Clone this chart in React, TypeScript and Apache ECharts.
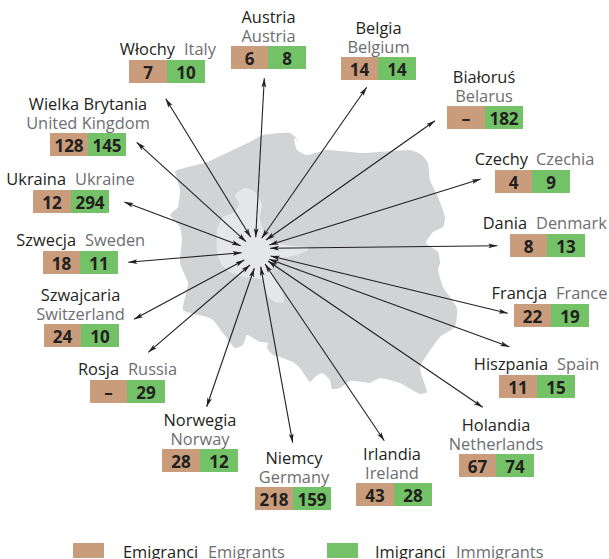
import React, { useEffect, useRef } from "react";
import * as echarts from "echarts";

const namesPl = ["Austria","Belgia","Białoruś","Czechy","Dania","Francja","Hiszpania","Holandia","Irlandia","Niemcy","Norwegia","Rosja","Szwajcaria","Szwecja","Ukraina","Wielka Brytania","Włochy"];
const namesEn = ["Austria","Belgium","Belarus","Czechia","Denmark","France","Spain","Netherlands","Ireland","Germany","Norway","Russia","Switzerland","Sweden","Ukraine","United Kingdom","Italy"];
const emigrants: (number | null)[] = [6,14,null,4,8,22,11,67,43,218,28,null,24,18,12,128,7];
const immigrants = [8,14,182,9,13,19,15,74,28,159,12,29,10,11,294,145,10];
const legendPl = ["Emigranci","Imigranci"];
const legendEn = ["Emigrants","Immigrants"];

// layout (page pixels)
const boxLeft = [231,341,447,495,510,514,499,459,356,255,162,90,44,43,33,50,129];
const boxSplit = [268,378,485,532,547,551,537,496,394,293,200,127,81,80,71,88,167];
const boxRight = [306,416,523,570,585,589,575,534,432,331,238,165,119,118,109,126,205];
const boxTop = [46,57,106,170,234,304,375,454,483,487,449,380,324,251,190,133,60];
const BOX_H = 23;
// labels: stacked => [centerX], inline => [plEndX, enStartX]
const labelAnchor: number[][] = [[268.5],[378.5],[484],[528,536],[527,536],[547,556],[548,557],[496],[392],[294],[200],[119,128],[80.5],[76,85],[66,75],[88],[175,184]];
const arrowOuter = [[264.3,78.3],[366.7,87.3],[435,120.7],[480.7,179],[497.3,245.7],[507.7,313.3],[509.3,346.7],[482.7,407.3],[384.3,440.7],[292.7,442.7],[206.7,406.7],[148.3,352.3],[134,319.3],[128.3,262.3],[124.3,202],[136.7,142.3],[165.7,98.7]];
const arrowInner = [[255.7,237.3],[261.7,238.3],[266,240],[269.3,245],[270,248.3],[270.7,256],[269.3,259.3],[268,261],[265,264],[260.7,266.7],[254.3,268.3],[250,265],[244.3,260],[241.7,252.7],[240.7,245.7],[246,241.7],[250.7,237.3]];

const polandOutline = [[175,172],[177,170],[207,162],[233,150],[250,142],[263,135],[290,133],[300,142],[294,138],[297,150],[307,155],[327,150],[363,153],[410,150],[422,155],[428,163],[430,180],[438,197],[445,217],[443,227],[433,232],[426,243],[438,252],[440,263],[438,270],[443,287],[457,308],[455,327],[440,337],[420,367],[427,392],[420,394],[400,383],[380,378],[370,383],[363,382],[350,381],[340,388],[332,389],[330,380],[322,373],[315,377],[310,382],[300,368],[293,362],[280,357],[273,355],[267,348],[268,343],[260,342],[247,335],[243,345],[235,348],[223,333],[213,320],[207,317],[183,310],[188,283],[180,263],[182,240],[180,227],[170,215],[178,207],[180,190]];
const centralRegion = [[235,195],[245,188],[255,192],[262,205],[260,217],[263,230],[272,242],[287,245],[307,247],[308,250],[297,255],[283,258],[273,262],[272,270],[275,280],[283,293],[283,302],[275,302],[267,295],[263,280],[255,278],[243,277],[230,272],[222,265],[217,252],[217,230],[223,217],[233,213],[239,205]];

const C_EMI = "#c99c7b";
const C_IMM = "#74c267";
const C_DARK = "#231f20";
const C_GREY = "#6d6e71";
const FAMILY = '"Open Sans"';
const FONT_NAME = `16.4px ${FAMILY}`;
const FONT_NUM = `bold 17px ${FAMILY}`;
const ARROW_LEN = 9;
const ARROW_HALF = 2.4;

function head(tip: number[], from: number[]) {
  const dx = from[0] - tip[0];
  const dy = from[1] - tip[1];
  const d = Math.hypot(dx, dy) || 1;
  const ux = dx / d, uy = dy / d;
  const bx = tip[0] + ux * ARROW_LEN, by = tip[1] + uy * ARROW_LEN;
  return {
    type: "polygon",
    shape: { points: [tip, [bx - uy * ARROW_HALF, by + ux * ARROW_HALF], [tip[0] + ux * (ARROW_LEN - 2), tip[1] + uy * (ARROW_LEN - 2)], [bx + uy * ARROW_HALF, by - ux * ARROW_HALF]] },
    style: { fill: C_DARK },
  };
}

const renderArrow = (_p: any, api: any) => {
  const a = api.coord([api.value(0), api.value(1)]);
  const b = api.coord([api.value(2), api.value(3)]);
  return {
    type: "group",
    children: [
      { type: "line", shape: { x1: a[0], y1: a[1], x2: b[0], y2: b[1] }, style: { stroke: C_DARK, lineWidth: 1.1 } },
      head(a, b),
      head(b, a),
    ],
  };
};

const renderBox = (p: any, api: any) => {
  const i = p.dataIndex;
  const tl = api.coord([api.value(0), api.value(1)]);
  const mid = api.coord([api.value(2), api.value(1) + BOX_H]);
  const br = api.coord([api.value(3), api.value(1) + BOX_H]);
  const cy = (tl[1] + br[1]) / 2 + 0.5;
  const e = emigrants[i];
  const num = (text: string, x: number) => ({ type: "text", style: { text, x, y: cy, fill: C_DARK, font: FONT_NUM, align: "center", verticalAlign: "middle" } });
  return {
    type: "group",
    children: [
      { type: "rect", shape: { x: tl[0], y: tl[1], width: mid[0] - tl[0], height: br[1] - tl[1] }, style: { fill: C_EMI } },
      { type: "rect", shape: { x: mid[0], y: tl[1], width: br[0] - mid[0], height: br[1] - tl[1] }, style: { fill: C_IMM } },
      num(e === null ? "–" : String(e), (tl[0] + mid[0]) / 2),
      num(String(immigrants[i]), (mid[0] + br[0]) / 2),
    ],
  };
};

const renderLabel = (p: any, api: any) => {
  const i = p.dataIndex;
  const anchor = labelAnchor[i];
  const top = api.coord([0, api.value(0)])[1];
  const txt = (text: string, x: number, y: number, fill: string, align: string) => ({
    type: "text",
    style: { text, x, y, fill, font: FONT_NAME, align, verticalAlign: "middle" },
  });
  const children = anchor.length === 1
    ? [txt(namesPl[i], anchor[0], top - 29.5, C_DARK, "center"), txt(namesEn[i], anchor[0], top - 11, C_GREY, "center")]
    : [txt(namesPl[i], anchor[0], top - 11.5, C_DARK, "right"), txt(namesEn[i], anchor[1], top - 11.5, C_GREY, "left")];
  return { type: "group", children };
};

const legendGraphic = [
  { type: "rect", shape: { x: 73, y: 543, width: 31, height: 15 }, style: { fill: C_EMI } },
  { type: "rect", shape: { x: 327, y: 543, width: 31, height: 15 }, style: { fill: C_IMM } },
  { type: "text", x: 123, y: 551.5, style: { text: legendPl[0], fill: C_DARK, font: FONT_NAME, verticalAlign: "middle" } },
  { type: "text", x: 208, y: 551.5, style: { text: legendEn[0], fill: C_GREY, font: FONT_NAME, verticalAlign: "middle" } },
  { type: "text", x: 375, y: 551.5, style: { text: legendPl[1], fill: C_DARK, font: FONT_NAME, verticalAlign: "middle" } },
  { type: "text", x: 456, y: 551.5, style: { text: legendEn[1], fill: C_GREY, font: FONT_NAME, verticalAlign: "middle" } },
];

export default function App() {
  const ref = useRef<HTMLDivElement>(null);
  useEffect(() => {
    document.body.style.margin = "0";
    const chart = echarts.init(ref.current!, undefined, { renderer: "svg" });
    chart.setOption({
      animation: false,
      backgroundColor: "#ffffff",
      grid: { left: 0, right: 0, top: 0, bottom: 0 },
      xAxis: { type: "value", min: 0, max: 609, show: false },
      yAxis: { type: "value", min: 0, max: 559, inverse: true, show: false },
      graphic: [
        { type: "polygon", z: 0, shape: { points: polandOutline, smooth: 0.15 }, style: { fill: "#d1d3d4" } },
        { type: "polygon", z: 1, shape: { points: centralRegion, smooth: 0.2 }, style: { fill: "#e6e7e8" } },
        { type: "circle", z: 1, shape: { cx: 256, cy: 251, r: 15 }, style: { fill: "#e6e7e8" } },
        ...legendGraphic,
      ],
      series: [
        { type: "custom", clip: false, renderItem: renderArrow, silent: true, data: arrowOuter.map((o, i) => [o[0], o[1], arrowInner[i][0], arrowInner[i][1]]) },
        { type: "custom", clip: false, renderItem: renderBox, silent: true, data: boxLeft.map((l, i) => [l, boxTop[i], boxSplit[i], boxRight[i]]) },
        { type: "custom", clip: false, renderItem: renderLabel, silent: true, encode: { y: 0 }, data: boxTop.map((t) => [t]) },
      ],
    });
    return () => chart.dispose();
  }, []);
  return <div ref={ref} style={{ width: 609, height: 559 }} />;
}
